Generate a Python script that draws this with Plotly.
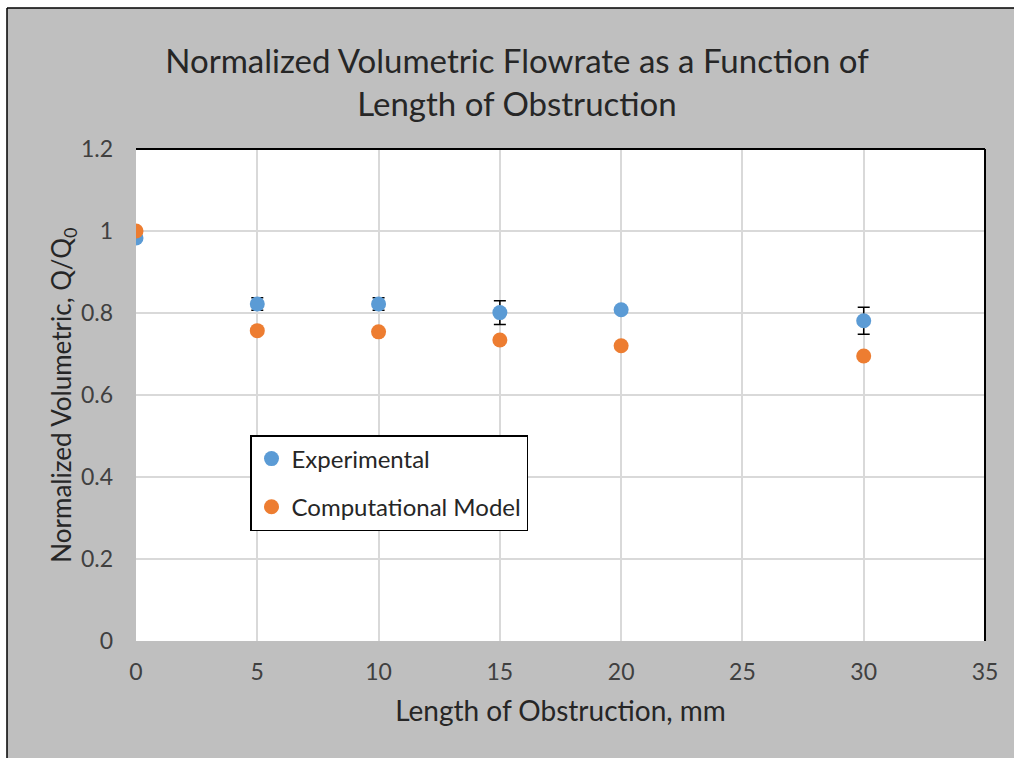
import plotly.graph_objects as go

# Data
length_mm = [0, 5, 10, 15, 20, 30]
experimental = [0.983, 0.822, 0.822, 0.801, 0.808, 0.781]
experimental_err = [0.0, 0.015, 0.015, 0.029, 0.006, 0.033]
computational = [1.0, 0.757, 0.754, 0.734, 0.720, 0.695]

x_ticks = [0, 5, 10, 15, 20, 25, 30, 35]
y_ticks = [0, 0.2, 0.4, 0.6, 0.8, 1.0, 1.2]
y_tick_text = ["0", "0.2", "0.4", "0.6", "0.8", "1", "1.2"]

BLUE = "#5B9BD5"
ORANGE = "#ED7D31"
BG = "#BFBFBF"
FONT = "Lato"

# plot-area pixel geometry
W, H = 1014, 758
L, R, T, B = 136, 985, 149, 641
pw, ph = R - L, B - T

def px_x(p):
    return (p - L) / pw

def px_y(p):
    return (B - p) / ph

fig = go.Figure()
fig.add_trace(go.Scatter(
    x=length_mm, y=experimental, mode="markers", name="Experimental",
    marker=dict(color=BLUE, size=15),
    error_y=dict(type="data", array=experimental_err, visible=True,
                 color="black", thickness=1.5, width=6),
    legendgroup="a",
))
fig.add_trace(go.Scatter(
    x=length_mm, y=computational, mode="markers", name="Computational Model",
    marker=dict(color=ORANGE, size=15),
    legendgroup="b",
))

shapes = [
    # white strips outside the outer border
    dict(type="rect", xref="paper", yref="paper", x0=px_x(-50), x1=px_x(7),
         y0=px_y(900), y1=px_y(-50), fillcolor="white", line=dict(width=0), layer="above"),
    dict(type="rect", xref="paper", yref="paper", x0=px_x(-50), x1=px_x(1100),
         y0=px_y(8), y1=px_y(-50), fillcolor="white", line=dict(width=0), layer="above"),
    # outer border lines
    dict(type="line", xref="paper", yref="paper", x0=px_x(7), x1=px_x(7),
         y0=px_y(900), y1=px_y(8), line=dict(color="black", width=1.5)),
    dict(type="line", xref="paper", yref="paper", x0=px_x(7), x1=px_x(1100),
         y0=px_y(8), y1=px_y(8), line=dict(color="black", width=1.5)),
    # plot-area top and right black edges
    dict(type="line", xref="paper", yref="paper", x0=0, x1=1, y0=1, y1=1,
         line=dict(color="black", width=2)),
    dict(type="line", xref="paper", yref="paper", x0=1, x1=1, y0=0, y1=1,
         line=dict(color="black", width=2)),
]

fig.update_layout(
    width=W, height=H,
    margin=dict(l=L, r=W - R, t=T, b=H - B),
    paper_bgcolor=BG, plot_bgcolor="white",
    font=dict(family=FONT, color="#404040"),
    title=dict(
        text="Normalized Volumetric Flowrate as a Function of<br>Length of Obstruction",
        x=px_x(517), xref="paper", xanchor="center",
        y=1 - 73 / H, yref="container", yanchor="middle",
        font=dict(family=FONT, size=33, color="#262626"),
    ),
    xaxis=dict(
        range=[0, 35], tickvals=x_ticks, ticktext=[str(v) for v in x_ticks],
        showgrid=True, gridcolor="#D9D9D9", gridwidth=2,
        zeroline=False, showline=False, ticks="",
        ticklabelstandoff=15,
        tickfont=dict(size=23, color="#404040"),
        title=dict(text="Length of Obstruction, mm", standoff=17,
                   font=dict(size=28, color="#262626")),
    ),
    yaxis=dict(
        range=[0, 1.2], tickvals=y_ticks, ticktext=y_tick_text,
        showgrid=True, gridcolor="#D9D9D9", gridwidth=2,
        zeroline=False, showline=False, ticks="",
        ticklabelstandoff=22,
        tickfont=dict(size=23, color="#404040"),
        title=dict(text="Normalized Volumetric, Q/Q<sub>0</sub>", standoff=0,
                   font=dict(size=26, color="#262626")),
    ),
    legend=dict(
        x=px_x(250), y=px_y(435), xanchor="left", yanchor="top",
        bgcolor="white", bordercolor="black", borderwidth=1.5,
        font=dict(size=24, color="#262626"),
        traceorder="grouped", tracegroupgap=14,
        itemwidth=30,
    ),
    shapes=shapes,
)

fig.write_html(
    "out.html",
    config={"displayModeBar": False},
    post_script="document.body.style.margin='0';document.body.style.overflow='hidden';",
)
